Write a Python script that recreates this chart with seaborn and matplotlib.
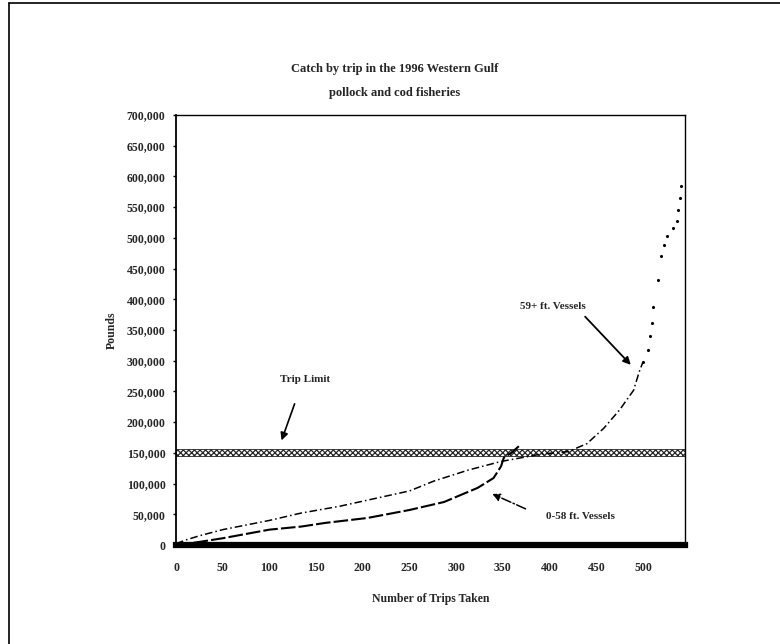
import pandas as pd
import matplotlib.pyplot as plt
import seaborn as sns
from matplotlib.lines import Line2D

# estilo base
sns.set_style("ticks")
plt.rcParams['font.family'] = ['Liberation Serif', 'DejaVu Serif']
plt.rcParams['font.weight'] = 'bold'
plt.rcParams['hatch.linewidth'] = 0.9

# ---------------------------
# dados
# ---------------------------
# 59+ ft. vessels (captura por viagem, ordenada)
trips_large = [0, 10, 25, 50, 100, 134, 175, 205, 250, 276, 313, 348, 391, 420,
               440, 458, 475, 490, 496, 500, 505, 508, 510, 511, 516, 519, 522,
               526, 532, 536, 538, 540, 541]
pounds_large = [2000, 8000, 15000, 25000, 40000, 52000, 63000, 73000, 88000,
                104000, 122000, 136000, 148000, 152000, 165000, 190000, 220000,
                252000, 282000, 298000, 318000, 340000, 362000, 388000, 432000,
                470000, 488000, 503000, 516000, 528000, 545000, 565000, 585000]

# 0-58 ft. vessels
trips_small = [0, 25, 50, 100, 134, 160, 205, 250, 287, 323, 340, 348, 351, 359, 368]
pounds_small = [0, 5000, 11000, 25000, 30000, 36000, 44000, 57000, 70000, 93000,
                109000, 128000, 142000, 150000, 162000]

trip_limit = 150000
x_ticks = list(range(0, 501, 50))
y_ticks = list(range(0, 700001, 50000))

df_large = pd.DataFrame({'trips': trips_large, 'pounds': pounds_large})
df_small = pd.DataFrame({'trips': trips_small, 'pounds': pounds_small})
# a parte final da curva 59+ aparece só como pontos soltos
df_large_line = df_large[df_large['trips'] <= 500]
df_large_tail = df_large[df_large['trips'] >= 500]

# ---------------------------
# figura
# ---------------------------
fig = plt.figure(figsize=(7.8, 6.44), dpi=100)
ax = fig.add_axes([176 / 780, 1 - 545 / 644, (685 - 176) / 780, (545 - 115) / 644])

# limite por viagem (faixa hachurada)
ax.axhspan(trip_limit - 5500, trip_limit + 5500, facecolor='white',
           edgecolor='0.15', hatch='xxxxxx', linewidth=0.6, zorder=1)

sns.lineplot(data=df_large_line, x='trips', y='pounds', ax=ax, color='black',
             linewidth=1.1, linestyle=(0, (5, 2, 1, 2)), zorder=3)
sns.scatterplot(data=df_large_tail, x='trips', y='pounds', ax=ax, color='black',
                s=5, linewidth=0, zorder=3)
sns.lineplot(data=df_small, x='trips', y='pounds', ax=ax, color='black',
             linewidth=1.5, linestyle=(0, (7, 1.5)), zorder=3)

ax.set_xlim(0, 545)
ax.set_ylim(0, 700000)
ax.set_xticks(x_ticks)
ax.set_xticklabels([str(v) for v in x_ticks])
ax.set_yticks(y_ticks)
ax.set_yticklabels([f"{v:,}" for v in y_ticks])
ax.tick_params(axis='y', length=2.5, width=1, pad=5, labelsize=8.5, color='black')
ax.tick_params(axis='x', length=0, pad=12, labelsize=8.5)

for side in ['top', 'right']:
    ax.spines[side].set_linewidth(1.0)
    ax.spines[side].set_color('black')
ax.spines['left'].set_linewidth(1.3)
ax.spines['left'].set_color('black')
ax.spines['bottom'].set_linewidth(4.5)
ax.spines['bottom'].set_color('black')

ax.set_xlabel('Number of Trips Taken', fontsize=8.5, fontweight='bold')
ax.set_ylabel('Pounds', fontsize=8.5, fontweight='bold')
ax.xaxis.set_label_coords(0.5, -0.112)
ax.yaxis.set_label_coords(-0.115, 0.5)

# anotações
ax.annotate('', xy=(112, 166000), xytext=(128, 234000),
            arrowprops=dict(arrowstyle='-|>', color='black', lw=1.2, mutation_scale=11))
ax.text(138, 269000, 'Trip Limit', ha='center', va='center', fontsize=8)

ax.annotate('', xy=(489, 290000), xytext=(436, 375000),
            arrowprops=dict(arrowstyle='-|>', color='black', lw=1.3, mutation_scale=11))
ax.text(404, 389000, '59+ ft. Vessels', ha='center', va='center', fontsize=8)

ax.annotate('', xy=(336, 85000), xytext=(377, 57000),
            arrowprops=dict(arrowstyle='-|>', color='black', lw=1.1, linestyle='-.',
                            mutation_scale=11))
ax.text(433, 45600, '0-58 ft. Vessels', ha='center', va='center', fontsize=8)

# título
fig.text(395 / 780, 1 - 81 / 644,
         'Catch by trip in the 1996 Western Gulf\npollock and cod fisheries',
         ha='center', va='center', fontsize=9, fontweight='bold', linespacing=2.3)

# moldura externa
fig.add_artist(Line2D([9 / 780, 9 / 780], [0, 1 - 3 / 644], transform=fig.transFigure,
                      color='black', lw=1.2))
fig.add_artist(Line2D([9 / 780, 1], [1 - 3 / 644, 1 - 3 / 644], transform=fig.transFigure,
                      color='black', lw=1.2))

plt.savefig('out.png', dpi=100)
